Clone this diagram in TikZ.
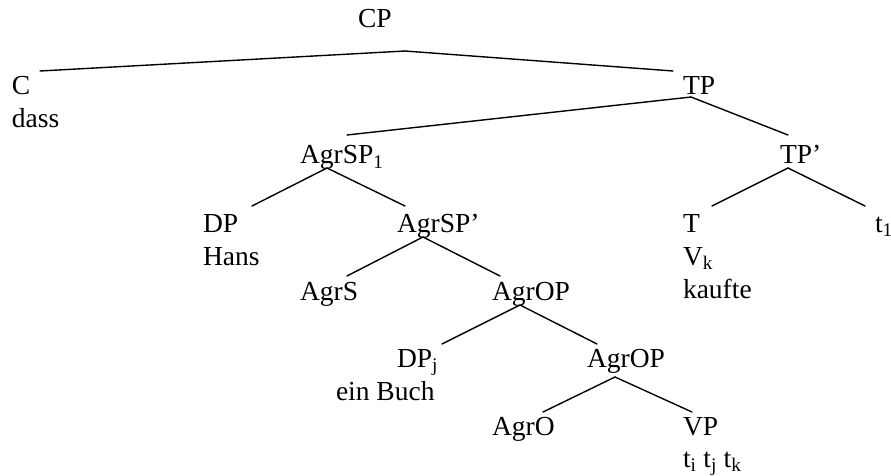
\documentclass[tikz,border=0pt]{standalone}
\usepackage{fontspec}
\setmainfont{Liberation Serif}
\usepackage{tikz}
\usetikzlibrary{positioning,calc}
\usepackage{tkz-euclide}

\tikzset{lab/.style={anchor=base west, inner sep=0pt, outer sep=0pt}}

\begin{document}
\begin{tikzpicture}[x=1pt, y=-1pt, font=\fontsize{27.5}{33}\selectfont]
    \useasboundingbox (0,0) rectangle (891,476);

    % labels
    \node[lab] (CP) at (358,28) {CP};
    \node[lab] (C) at (12,95) {C};
    \node[lab] (dass) at (12,128) {dass};
    \node[lab] (TP) at (683,95) {TP};
    \node[lab] (SP) at (300,164) {AgrSP\textsubscript{1}};
    \node[lab] (TPp) at (780,164) {TP’};
    \node[lab] (DP) at (203,232) {DP};
    \node[lab] (Hans) at (203,265) {Hans};
    \node[lab] (SPp) at (397,232) {AgrSP’};
    \node[lab] (T) at (683,232) {T};
    \node[lab] (Vk) at (683,265) {V\textsubscript{k}};
    \node[lab] (kaufte) at (683,298) {kaufte};
    \node[lab] (t) at (875,232) {t\textsubscript{1}};
    \node[lab] (S) at (300,300) {AgrS};
    \node[lab] (OP) at (492,300) {AgrOP};
    \node[lab] (DPj) at (397,367) {DP\textsubscript{j}};
    \node[lab] (Buch) at (336,400) {ein Buch};
    \node[lab] (OPp) at (587,367) {AgrOP};
    \node[lab] (O) at (492,435) {AgrO};
    \node[lab] (VP) at (683,435) {VP};
    \node[lab] (tr) at (683,467) {t\textsubscript{i} t\textsubscript{j} t\textsubscript{k}};

    % branch points
    \tkzDefPoint(405,51){cp}
    \tkzDefPoint(40,71){c}
    \tkzDefPoint(673,71){tp}
    \tkzDrawSegments[line width=1.4pt](cp,c cp,tp)

    \tkzDefPoint(691,97){tpa}
    \tkzDefPoint(347,135){sp}
    \tkzDefPoint(788,135){tpp}
    \tkzDrawSegments[line width=1.4pt](tpa,sp tpa,tpp)

    \tkzDefPoint(788,168){tppa}
    \tkzDefPoint(712,206){tt}
    \tkzDefPoint(865,206){tr1}
    \tkzDrawSegments[line width=1.4pt](tppa,tt tppa,tr1)

    \tkzDefPoint(327,168){spa}
    \tkzDefPoint(252,206){dp}
    \tkzDefPoint(405,206){spp}
    \tkzDrawSegments[line width=1.4pt](spa,dp spa,spp)

    \tkzDefPoint(423,237){sppa}
    \tkzDefPoint(347,276){s}
    \tkzDefPoint(500,276){op}
    \tkzDrawSegments[line width=1.4pt](sppa,s sppa,op)

    \tkzDefPoint(520,305){opa}
    \tkzDefPoint(442,344){dpj}
    \tkzDefPoint(597,344){opp}
    \tkzDrawSegments[line width=1.4pt](opa,dpj opa,opp)

    \tkzDefPoint(615,377){oppa}
    \tkzDefPoint(543,412){o}
    \tkzDefPoint(692,412){vp}
    \tkzDrawSegments[line width=1.4pt](oppa,o oppa,vp)
\end{tikzpicture}
\end{document}
